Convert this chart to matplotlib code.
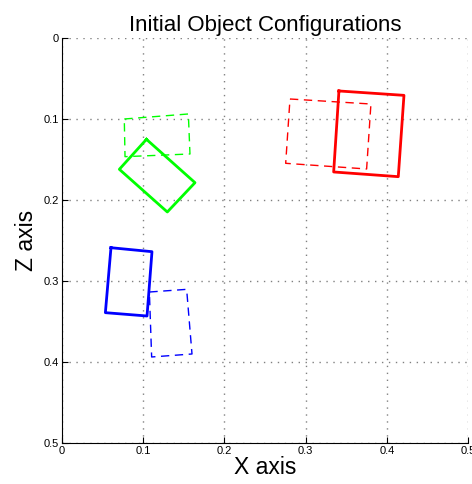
import numpy as np
import matplotlib
matplotlib.use("Agg")
import matplotlib.pyplot as plt

plt.rcParams['font.family'] = ['Liberation Sans', 'DejaVu Sans']

# corner points (x, z) of each object, initial (solid) and goal (dashed)
green_solid_x = [0.1040, 0.1638, 0.1297, 0.0706]
green_solid_z = [0.1251, 0.1786, 0.2148, 0.1621]
green_dash_x = [0.0767, 0.1556, 0.1576, 0.0776]
green_dash_z = [0.1000, 0.0938, 0.1432, 0.1465]

red_solid_x = [0.3411, 0.4212, 0.4142, 0.3346]
red_solid_z = [0.0654, 0.0708, 0.1712, 0.1654]
red_dash_x = [0.2808, 0.3805, 0.3752, 0.2755]
red_dash_z = [0.0753, 0.0815, 0.1617, 0.1547]

blue_solid_x = [0.0603, 0.1108, 0.1047, 0.0534]
blue_solid_z = [0.2589, 0.2638, 0.3432, 0.3391]
blue_dash_x = [0.1076, 0.1535, 0.1601, 0.1104]
blue_dash_z = [0.3136, 0.3103, 0.3901, 0.3938]

ticks = [0, 0.1, 0.2, 0.3, 0.4, 0.5]
tick_labels = ['0', '0.1', '0.2', '0.3', '0.4', '0.5']


def closed(xs, zs):
    return list(xs) + [xs[0]], list(zs) + [zs[0]]


fig = plt.figure(figsize=(4.72, 4.84), dpi=100)
ax = fig.add_axes([0.1314, 0.0847, 0.860, 0.8368])

objs = [
    (green_solid_x, green_solid_z, green_dash_x, green_dash_z, '#00ff00'),
    (red_solid_x, red_solid_z, red_dash_x, red_dash_z, '#ff0000'),
    (blue_solid_x, blue_solid_z, blue_dash_x, blue_dash_z, '#0000ff'),
]
for sx, sz, dx, dz, c in objs:
    x, z = closed(sx, sz)
    ax.plot(x, z, color=c, lw=2)
    x, z = closed(dx, dz)
    ax.plot(x, z, color=c, lw=1, ls=(0, (6, 4)))

ax.set_xlim(0, 0.5)
ax.set_ylim(0.5, 0)
ax.set_xticks(ticks)
ax.set_xticklabels(tick_labels)
ax.set_yticks(ticks)
ax.set_yticklabels(tick_labels)
ax.tick_params(direction='in', labelsize=8, length=4, pad=2)
ax.grid(True, ls=(0, (1, 4)), color='#808080', lw=1)
ax.spines['top'].set_visible(False)
ax.spines['right'].set_visible(False)

ax.set_title('Initial Object Configurations', fontsize=16, pad=5)
ax.set_xlabel('X axis', fontsize=16.5, labelpad=0)
ax.set_ylabel('Z axis', fontsize=16.5, labelpad=4)

fig.savefig('out.png', dpi=100)
